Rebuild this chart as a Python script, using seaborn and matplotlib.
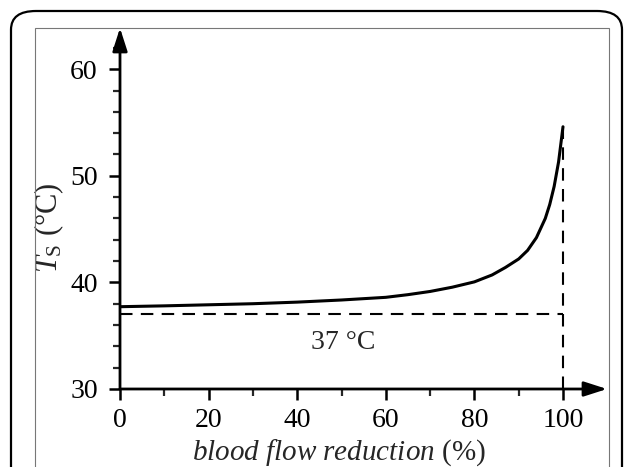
import numpy as np
import pandas as pd
import matplotlib
matplotlib.use("Agg")
import matplotlib.pyplot as plt
from matplotlib.patches import FancyBboxPatch, Rectangle
from matplotlib.ticker import MultipleLocator
import seaborn as sns

# values
flow_reduction = [0, 10, 20, 30, 40, 50, 60, 65, 70, 75, 80, 84, 87, 90, 92, 94, 96, 97, 98, 99, 100]
surface_temp = [37.72, 37.8, 37.9, 38.0, 38.15, 38.35, 38.6, 38.85, 39.15, 39.55, 40.05, 40.7,
                41.4, 42.2, 43.0, 44.2, 46.0, 47.3, 49.0, 51.3, 54.6]
body_temp = 37
x_ticks = [0, 20, 40, 60, 80, 100]
y_ticks = [30, 40, 50, 60]

df = pd.DataFrame({"reduction": flow_reduction, "Ts": surface_temp})

sns.set_style("ticks")
plt.rcParams["font.family"] = ["Liberation Serif", "DejaVu Serif"]
plt.rcParams["mathtext.fontset"] = "custom"
plt.rcParams["mathtext.rm"] = "Liberation Serif"
plt.rcParams["mathtext.it"] = "Liberation Serif:italic"

fig = plt.figure(figsize=(6.25, 4.67), dpi=100)

# outer rounded frame and inner grey frame
outer = FancyBboxPatch((11 / 625, -0.2), (622 - 11) / 625, 1.2 - 11 / 467,
                       boxstyle="round,pad=0,rounding_size=0.04", transform=fig.transFigure,
                       fill=False, edgecolor="black", linewidth=1.6, clip_on=False)
fig.patches.append(outer)
inner = Rectangle((35 / 625, -0.1), (609 - 35) / 625, 1.1 - 28 / 467,
                  transform=fig.transFigure, fill=False, edgecolor="#777777",
                  linewidth=0.8, clip_on=False)
fig.patches.append(inner)

ax = fig.add_axes([120 / 625, 78 / 467, (607 - 120) / 625, (389 - 28) / 467])
ax.set_facecolor("none")

sns.lineplot(data=df, x="reduction", y="Ts", ax=ax, color="black", linewidth=2.2)

ax.plot([0, 100], [body_temp, body_temp], color="black", linewidth=1.5, dashes=(6, 4))
ax.plot([100, 100], [30, surface_temp[-1] - 0.3], color="black", linewidth=1.5, dashes=(6, 4))
ax.text(50.3, 34.4, "37 °C", ha="center", va="center", fontsize=20)

xmax = (607 - 120) / 4.43
ymax = 30 + (389 - 28) / 10.66
ax.set_xlim(0, xmax)
ax.set_ylim(30, ymax)

sns.despine(ax=ax, top=True, right=True, left=True, bottom=True)
# axis lines with arrow heads
ax.annotate("", xy=(1, 0), xytext=(0, 0), xycoords="axes fraction",
            arrowprops=dict(arrowstyle="-|>,head_length=1.4,head_width=0.45",
                            color="black", lw=2, shrinkA=0, shrinkB=0))
ax.annotate("", xy=(0, 1), xytext=(0, 0), xycoords="axes fraction",
            arrowprops=dict(arrowstyle="-|>,head_length=1.4,head_width=0.45",
                            color="black", lw=2, shrinkA=0, shrinkB=0))

ax.set_xticks(x_ticks)
ax.set_yticks(y_ticks)
ax.yaxis.set_minor_locator(MultipleLocator(2))
ax.set_xticks([t for t in range(10, 100, 20)], minor=True)
ax.tick_params(which="major", length=8, width=1.8, labelsize=20, colors="black", direction="out")
ax.tick_params(which="minor", length=5, width=1.6, direction="out")
ax.tick_params(axis="y", which="major", pad=8)
ax.tick_params(axis="x", which="major", pad=6)

ax.set_xlabel(r"$\it{blood\ flow\ reduction}$ (%)", fontsize=21)
ax.set_ylabel(r"$T_{\rm S}$ (°C)", fontsize=22)
ax.xaxis.set_label_coords((339 - 120) / (607 - 120), -(437 - 389) / (389 - 28))
ax.yaxis.set_label_coords(-(120 - 66) / (607 - 120), (389 - 228) / (389 - 28))

fig.savefig("out.png", dpi=100)
